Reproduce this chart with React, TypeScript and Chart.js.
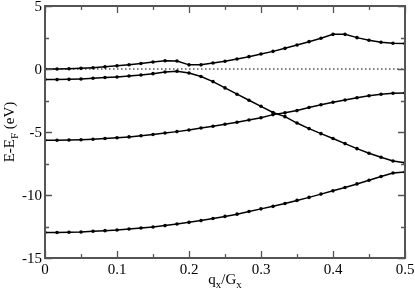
import React, { useEffect, useRef } from "react";
import { Chart, registerables } from "chart.js";

Chart.register(...registerables);

// sampled q_x / G_x positions
const qValues = [
  0, 0.0167, 0.0333, 0.05, 0.0667, 0.0833, 0.1, 0.1167, 0.1333, 0.15, 0.1667,
  0.1833, 0.2, 0.2167, 0.2333, 0.25, 0.2667, 0.2833, 0.3, 0.3167, 0.3333, 0.35,
  0.3667, 0.3833, 0.4, 0.4167, 0.4333, 0.45, 0.4667, 0.4833, 0.5,
];

// energy bands E - E_F (eV)
const band1 = [
  0.0, 0.0, 0.02, 0.05, 0.1, 0.17, 0.25, 0.34, 0.44, 0.55, 0.66, 0.64, 0.33,
  0.33, 0.48, 0.62, 0.79, 0.98, 1.19, 1.4, 1.64, 1.9, 2.17, 2.44, 2.75, 2.75,
  2.49, 2.28, 2.12, 2.04, 2.02,
];
const band2 = [
  -0.84, -0.84, -0.82, -0.79, -0.74, -0.68, -0.63, -0.56, -0.48, -0.37, -0.24,
  -0.18, -0.32, -0.6, -1.0, -1.5, -2.0, -2.48, -2.96, -3.45, -3.78, -4.29,
  -4.73, -5.13, -5.52, -5.92, -6.32, -6.69, -7.0, -7.3, -7.45,
];
const band3 = [
  -5.65, -5.65, -5.63, -5.61, -5.57, -5.52, -5.46, -5.39, -5.3, -5.2, -5.08,
  -4.97, -4.84, -4.68, -4.54, -4.38, -4.23, -4.05, -3.87, -3.62, -3.48, -3.3,
  -3.06, -2.84, -2.64, -2.46, -2.28, -2.12, -2.0, -1.93, -1.9,
];
const band4 = [
  -12.98, -12.98, -12.96, -12.94, -12.88, -12.83, -12.78, -12.7, -12.62,
  -12.54, -12.43, -12.3, -12.17, -12.03, -11.87, -11.7, -11.52, -11.31, -11.1,
  -10.9, -10.67, -10.43, -10.19, -9.93, -9.67, -9.4, -9.12, -8.83, -8.53,
  -8.25, -8.17,
];
const bands = [band1, band2, band3, band4];

const fermiLine = [
  { x: 0, y: 0 },
  { x: 0.5, y: 0 },
];

const xTicks = [0, 0.1, 0.2, 0.3, 0.4, 0.5];
const xTickLabels = ["0", "0.1", "0.2", "0.3", "0.4", "0.5"];
const xMinorTicks = [0.05, 0.15, 0.25, 0.35, 0.45];
const yTicks = [-15, -10, -5, 0, 5];
const yTickLabels = ["-15", "-10", "-5", "0", "5"];
const yMinorTicks = [-12.5, -7.5, -2.5, 2.5];

const FONT = '"Liberation Serif", "DejaVu Serif", serif';

const framePlugin = {
  id: "frame",
  afterDraw(chart: any) {
    const { ctx, chartArea: a, scales } = chart;
    const xs = scales.x;
    const ys = scales.y;
    ctx.save();
    // frame
    ctx.strokeStyle = "#555";
    ctx.lineWidth = 2;
    ctx.strokeRect(a.left, a.top, a.right - a.left, a.bottom - a.top);

    // ticks
    ctx.lineWidth = 1.3;
    const major = 7;
    const minor = 4;
    const xTick = (v: number, len: number) => {
      const px = Math.round(xs.getPixelForValue(v)) + 0.5;
      ctx.beginPath();
      ctx.moveTo(px, a.bottom);
      ctx.lineTo(px, a.bottom - len);
      ctx.moveTo(px, a.top);
      ctx.lineTo(px, a.top + len);
      ctx.stroke();
    };
    const yTick = (v: number, len: number) => {
      const py = Math.round(ys.getPixelForValue(v)) + 0.5;
      ctx.beginPath();
      ctx.moveTo(a.left, py);
      ctx.lineTo(a.left + len, py);
      ctx.moveTo(a.right, py);
      ctx.lineTo(a.right - len, py);
      ctx.stroke();
    };
    xTicks.forEach((v) => xTick(v, major));
    xMinorTicks.forEach((v) => xTick(v, minor));
    yTicks.forEach((v) => yTick(v, major));
    yMinorTicks.forEach((v) => yTick(v, minor));

    // tick labels
    ctx.fillStyle = "#000";
    ctx.font = `15px ${FONT}`;
    ctx.textAlign = "center";
    ctx.textBaseline = "alphabetic";
    xTicks.forEach((v, i) => {
      ctx.fillText(xTickLabels[i], xs.getPixelForValue(v), a.bottom + 16);
    });
    ctx.textAlign = "right";
    ctx.textBaseline = "middle";
    yTicks.forEach((v, i) => {
      ctx.fillText(yTickLabels[i], a.left - 3, ys.getPixelForValue(v) + 1);
    });

    // x title: q_x/G_x
    const big = `15px ${FONT}`;
    const small = `11px ${FONT}`;
    const xParts: [string, boolean][] = [
      ["q", false],
      ["x", true],
      ["/G", false],
      ["x", true],
    ];
    const measure = (parts: [string, boolean][]) =>
      parts.reduce((s, [t, sub]) => {
        ctx.font = sub ? small : big;
        return s + ctx.measureText(t).width;
      }, 0);
    ctx.textAlign = "left";
    ctx.textBaseline = "alphabetic";
    let w = measure(xParts);
    let cx = (a.left + a.right) / 2 - w / 2;
    const by = a.bottom + 26;
    xParts.forEach(([t, sub]) => {
      ctx.font = sub ? small : big;
      ctx.fillText(t, cx, sub ? by + 4 : by);
      cx += ctx.measureText(t).width;
    });

    // y title: E-E_F (eV)
    const yParts: [string, boolean][] = [
      ["E-E", false],
      ["F", true],
      [" (eV)", false],
    ];
    w = measure(yParts);
    ctx.translate(14, (a.top + a.bottom) / 2);
    ctx.rotate(-Math.PI / 2);
    let tx = -w / 2;
    yParts.forEach(([t, sub]) => {
      ctx.font = sub ? small : big;
      ctx.fillText(t, tx, sub ? 4 : 0);
      tx += ctx.measureText(t).width;
    });
    ctx.restore();
  },
};

export default function App() {
  const ref = useRef<HTMLCanvasElement | null>(null);
  useEffect(() => {
    document.body.style.margin = "0";
    if (!ref.current) return;
    const datasets: any[] = bands.map((b) => ({
      data: qValues.map((q, i) => ({ x: q, y: b[i] })),
      borderColor: "#000",
      backgroundColor: "#000",
      borderWidth: 1.5,
      pointRadius: 1.8,
      pointBorderWidth: 0,
      pointBackgroundColor: "#000",
      tension: 0,
    }));
    datasets.push({
      data: fermiLine,
      borderColor: "#000",
      borderWidth: 1.2,
      borderDash: [1.5, 2.5],
      pointRadius: 0,
    });
    const chart = new Chart(ref.current, {
      type: "line",
      data: { datasets },
      options: {
        animation: false,
        responsive: false,
        maintainAspectRatio: false,
        layout: { padding: { left: 45, right: 10, top: 6, bottom: 36 } },
        plugins: {
          legend: { display: false },
          tooltip: { enabled: false },
        },
        scales: {
          x: { type: "linear", min: 0, max: 0.5, display: false },
          y: { type: "linear", min: -15, max: 5, display: false },
        },
      },
      plugins: [framePlugin],
    });
    return () => chart.destroy();
  }, []);
  return (
    <div style={{ width: 415, height: 294 }}>
      <canvas ref={ref} width={415} height={294} />
    </div>
  );
}
